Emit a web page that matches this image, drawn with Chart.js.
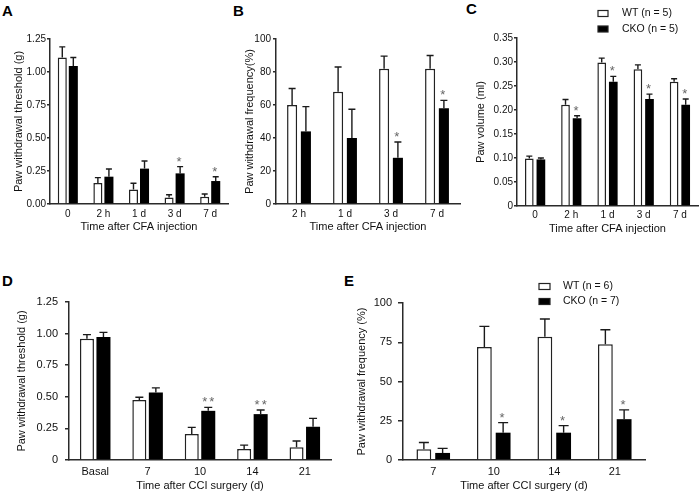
<!DOCTYPE html>
<html>
<head>
<meta charset="utf-8">
<script src="https://cdn.jsdelivr.net/npm/chart.js@4.4.1/dist/chart.umd.min.js"></script>
<style>
  html, body { margin: 0; padding: 0; background: #fff; }
  #wrap { position: relative; width: 700px; height: 493px; overflow: hidden; }
  canvas { position: absolute; }
  .tag { position: absolute; font: bold 15px 'Liberation Sans', Arial, sans-serif; line-height: 15px; color: #000; }
</style>
</head>
<body>
<div id="wrap">
  <div class="tag" style="left:2px;top:3px">A</div>
  <div class="tag" style="left:233px;top:3px">B</div>
  <div class="tag" style="left:466px;top:1px">C</div>
  <div class="tag" style="left:2px;top:273px">D</div>
  <div class="tag" style="left:344px;top:273px">E</div>
  <canvas id="chartA"></canvas>
  <canvas id="chartB"></canvas>
  <canvas id="chartC"></canvas>
  <canvas id="chartD"></canvas>
  <canvas id="chartE"></canvas>
</div>
<script>
// ---- data ----
// A: paw withdrawal threshold, CFA
const catsA = ['0', '2 h', '1 d', '3 d', '7 d'];
const wtA = [1.11, 0.16, 0.11, 0.05, 0.055];
const wtErrA = [1.19, 0.20, 0.157, 0.07, 0.076];
const ckoA = [1.045, 0.207, 0.268, 0.232, 0.174];
const ckoErrA = [1.11, 0.265, 0.326, 0.283, 0.207];
const starsA = ['', '', '', '*', '*'];

// B: paw withdrawal frequency, CFA
const catsB = ['2 h', '1 d', '3 d', '7 d'];
const wtB = [60, 68, 82, 82];
const wtErrB = [70, 83, 89.6, 90];
const ckoB = [44, 40, 28, 58];
const ckoErrB = [59, 57.4, 37.6, 62.8];
const starsB = ['', '', '*', '*'];

// C: paw volume
const catsC = ['0', '2 h', '1 d', '3 d', '7 d'];
const wtC = [0.099, 0.211, 0.299, 0.285, 0.259];
const wtErrC = [0.104, 0.222, 0.308, 0.294, 0.265];
const ckoC = [0.097, 0.183, 0.259, 0.223, 0.211];
const ckoErrC = [0.1, 0.188, 0.27, 0.233, 0.223];
const starsC = ['', '*', '*', '*', '*'];

// D: paw withdrawal threshold, CCI
const catsD = ['Basal', '7', '10', '14', '21'];
const wtD = [0.96, 0.474, 0.205, 0.087, 0.1];
const wtErrD = [0.992, 0.497, 0.258, 0.118, 0.15];
const ckoD = [0.974, 0.534, 0.389, 0.363, 0.263];
const ckoErrD = [1.01, 0.571, 0.416, 0.395, 0.329];
const starsD = ['', '', '**', '**', ''];

// E: paw withdrawal frequency, CCI
const catsE = ['7', '10', '14', '21'];
const wtE = [6.8, 71.9, 78.5, 73.8];
const wtErrE = [11.1, 85.1, 89.8, 83];
const ckoE = [4.5, 17.4, 17.4, 26];
const ckoErrE = [7.4, 23.8, 21.9, 31.9];
const starsE = ['', '*', '*', '*'];

const AXIS = '#2a2a2a';
const TXT = '#111';
const FONT = "'Liberation Sans', Arial, sans-serif";
Chart.defaults.font.family = FONT;
Chart.defaults.color = TXT;

// upper error bars (T shape) plus significance stars
const errorBars = {
    id: 'errorBars',
    afterDatasetsDraw(chart, args, opts) {
        const { ctx } = chart;
        const y = chart.scales.y;
        ctx.save();
        chart.data.datasets.forEach((ds, di) => {
            const meta = chart.getDatasetMeta(di);
            meta.data.forEach((bar, i) => {
                const top = y.getPixelForValue(ds.errTop[i]);
                const x = bar.x;
                ctx.strokeStyle = '#1a1a1a';
                ctx.lineWidth = 1.4;
                ctx.beginPath();
                ctx.moveTo(x, bar.y);
                ctx.lineTo(x, top);
                ctx.moveTo(x - opts.cap / 2, top);
                ctx.lineTo(x + opts.cap / 2, top);
                ctx.stroke();
                if (ds.stars && ds.stars[i]) {
                    ctx.fillStyle = '#666';
                    ctx.font = `13px ${FONT}`;
                    ctx.textAlign = 'center';
                    ctx.textBaseline = 'alphabetic';
                    ctx.letterSpacing = '2px';
                    ctx.fillText(ds.stars[i], x + (ds.stars[i].length > 1 ? 1 : 0), top - 1);
                    ctx.letterSpacing = '0px';
                }
            });
        });
        ctx.restore();
    }
};

// small box legend, items taken from the datasets
const boxLegend = {
    id: 'boxLegend',
    afterDraw(chart, args, o) {
        if (!o.show) return;
        const ctx = chart.ctx;
        ctx.save();
        ctx.font = `10.5px ${FONT}`;
        ctx.textBaseline = 'middle';
        chart.data.datasets.forEach((ds, i) => {
            const y = o.y + i * o.rowGap;
            ctx.fillStyle = ds.backgroundColor;
            ctx.fillRect(o.x, y - o.boxH / 2, o.boxW, o.boxH);
            ctx.strokeStyle = '#222';
            ctx.lineWidth = 1.2;
            ctx.strokeRect(o.x, y - o.boxH / 2, o.boxW, o.boxH);
            ctx.fillStyle = TXT;
            ctx.fillText(ds.label, o.textX, y);
        });
        ctx.restore();
    }
};

function makePanel(id, p) {
    const cv = document.getElementById(id);
    cv.width = p.w; cv.height = p.h;
    cv.style.left = p.left + 'px';
    cv.style.top = p.top + 'px';

    return new Chart(cv, {
        type: 'bar',
        data: {
            labels: p.cats,
            datasets: [
                { label: p.labels[0], data: p.wt, errTop: p.wtErr, backgroundColor: '#ffffff', borderColor: '#222', borderWidth: 1.5 },
                { label: p.labels[1], data: p.cko, errTop: p.ckoErr, stars: p.stars, backgroundColor: '#000000', borderColor: '#000', borderWidth: 0 }
            ]
        },
        options: {
            responsive: false,
            animation: false,
            layout: { padding: { top: p.padTop, right: p.padRight, left: 0, bottom: 0 } },
            datasets: { bar: { categoryPercentage: p.catPct, barPercentage: p.barPct } },
            plugins: {
                legend: { display: false },
                tooltip: { enabled: false },
                errorBars: { cap: p.cap },
                boxLegend: p.legend || { show: false }
            },
            scales: {
                x: {
                    border: { color: AXIS, width: 1.5 },
                    grid: { display: false, drawTicks: false },
                    ticks: { autoSkip: false, maxRotation: 0, padding: p.xTickPad, font: { size: p.xTickSize } },
                    title: { display: true, text: p.xTitle, font: { size: 11 }, padding: { top: 0, bottom: p.xTitlePad } },
                    afterFit(s) { s.height = p.xH; }
                },
                y: {
                    min: 0, max: p.max,
                    border: { color: AXIS, width: 1.5 },
                    grid: { drawOnChartArea: false, drawTicks: true, tickLength: p.tl, color: AXIS, lineWidth: 1.5 },
                    ticks: { stepSize: p.step, padding: p.yTickPad, font: { size: p.yTickSize }, callback: p.fmt },
                    title: { display: true, text: p.yTitle, font: { size: 11 }, padding: { top: p.yTitlePad, bottom: 0 } },
                    afterFit(s) { s.width = p.yW; }
                }
            }
        },
        plugins: [errorBars, boxLegend]
    });
}

const fix2 = v => v.toFixed(2);
const fix2z = v => (v === 0 ? '0' : v.toFixed(2));
const int = v => String(v);

makePanel('chartA', {
    left: 0, top: 0, w: 232, h: 240, padTop: 39, padRight: 4, yW: 50, xH: 36,
    cats: catsA, wt: wtA, wtErr: wtErrA, cko: ckoA, ckoErr: ckoErrA, stars: starsA, labels: ['WT', 'CKO'],
    max: 1.25, step: 0.25, fmt: fix2, tl: 3, yTickPad: 1, yTickSize: 10, yTitlePad: 12.4,
    yTitle: 'Paw withdrawal threshold (g)', xTitle: 'Time after CFA injection',
    xTickPad: 4, xTickSize: 10, xTitlePad: 6.4, catPct: 0.62, barPct: 0.82, cap: 6
});

makePanel('chartB', {
    left: 232, top: 0, w: 232, h: 240, padTop: 39, padRight: 4, yW: 44, xH: 36,
    cats: catsB, wt: wtB, wtErr: wtErrB, cko: ckoB, ckoErr: ckoErrB, stars: starsB, labels: ['WT', 'CKO'],
    max: 100, step: 20, fmt: int, tl: 3, yTickPad: 2, yTickSize: 10, yTitlePad: 11.4,
    yTitle: 'Paw withdrawal frequency(%)', xTitle: 'Time after CFA injection',
    xTickPad: 4, xTickSize: 10, xTitlePad: 6.4, catPct: 0.6, barPct: 0.73, cap: 7
});

makePanel('chartC', {
    left: 466, top: 0, w: 234, h: 240, padTop: 38, padRight: 2, yW: 51, xH: 34,
    cats: catsC, wt: wtC, wtErr: wtErrC, cko: ckoC, ckoErr: ckoErrC, stars: starsC, labels: ['WT (n = 5)', 'CKO (n = 5)'],
    max: 0.35, step: 0.05, fmt: fix2z, tl: 3, yTickPad: 1, yTickSize: 10, yTitlePad: 8.4,
    yTitle: 'Paw volume (ml)', xTitle: 'Time after CFA injection',
    xTickPad: 3, xTickSize: 10, xTitlePad: 4.4, catPct: 0.64, barPct: 0.75, cap: 6,
    legend: { show: true, x: 132, y: 13.5, rowGap: 15.5, boxW: 10, boxH: 6, textX: 156 }
});

makePanel('chartD', {
    left: 0, top: 250, w: 340, h: 243, padTop: 52, padRight: 9, yW: 69, xH: 33,
    cats: catsD, wt: wtD, wtErr: wtErrD, cko: ckoD, ckoErr: ckoErrD, stars: starsD, labels: ['WT', 'CKO'],
    max: 1.25, step: 0.25, fmt: fix2z, tl: 4, yTickPad: 7, yTickSize: 11, yTitlePad: 15.4,
    yTitle: 'Paw withdrawal threshold (g)', xTitle: 'Time after CCI surgery (d)',
    xTickPad: 5.4, xTickSize: 11, xTitlePad: 0, catPct: 0.63, barPct: 0.85, cap: 8
});

makePanel('chartE', {
    left: 350, top: 250, w: 350, h: 243, padTop: 53, padRight: 55, yW: 53, xH: 33,
    cats: catsE, wt: wtE, wtErr: wtErrE, cko: ckoE, ckoErr: ckoErrE, stars: starsE, labels: ['WT (n = 6)', 'CKO (n = 7)'],
    max: 100, step: 25, fmt: int, tl: 5, yTickPad: 6, yTickSize: 11, yTitlePad: 5.4,
    yTitle: 'Paw withdrawal frequency (%)', xTitle: 'Time after CCI surgery (d)',
    xTickPad: 5.4, xTickSize: 11, xTitlePad: 0, catPct: 0.62, barPct: 0.79, cap: 10,
    legend: { show: true, x: 189, y: 36.5, rowGap: 15, boxW: 11, boxH: 6, textX: 213 }
});
</script>
</body>
</html>
